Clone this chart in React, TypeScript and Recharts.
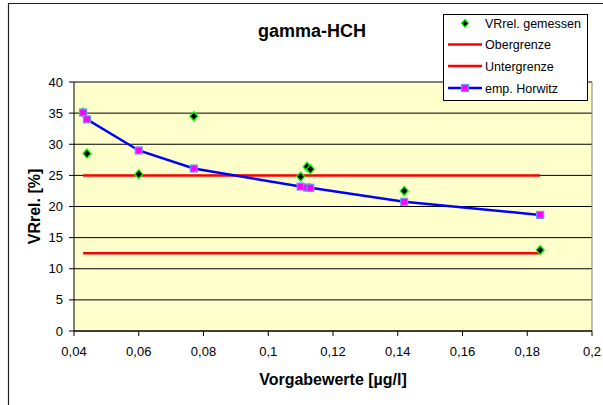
import React from 'react';
import { ComposedChart, Scatter, XAxis, YAxis, CartesianGrid, ReferenceLine } from 'recharts';

const vorgabewerte = [0.0428, 0.044, 0.06, 0.077, 0.11, 0.112, 0.113, 0.142, 0.184];
const vrMeasured = [35.1, 28.5, 25.2, 34.5, 24.8, 26.4, 26.0, 22.5, 13.0];
const horwitz = [35.1, 34.0, 29.0, 26.1, 23.2, 23.05, 23.0, 20.75, 18.65];
const boundX = [0.0428, 0.184];
const obergrenze = [25, 25];
const untergrenze = [12.5, 12.5];
const xTicks = [0.04, 0.06, 0.08, 0.1, 0.12, 0.14, 0.16, 0.18, 0.2];
const yTicks = [0, 5, 10, 15, 20, 25, 30, 35, 40];

const measuredData = vorgabewerte.map((x, i) => ({ x, y: vrMeasured[i] }));
const horwitzData = vorgabewerte.map((x, i) => ({ x, y: horwitz[i] }));
const oberData = boundX.map((x, i) => ({ x, y: obergrenze[i] }));
const unterData = boundX.map((x, i) => ({ x, y: untergrenze[i] }));

const FONT = '"Liberation Sans", Arial, sans-serif';

const Diamond = (props: any) => {
  const { cx, cy } = props;
  if (cx == null || cy == null) return <g />;
  return (
    <polygon
      points={`${cx},${cy - 4.5} ${cx + 4},${cy} ${cx},${cy + 4.5} ${cx - 4},${cy}`}
      fill="#000000"
      stroke="#00FF00"
      strokeWidth={1.3}
    />
  );
};

const Square = (props: any) => {
  const { cx, cy } = props;
  if (cx == null || cy == null) return <g />;
  return <rect x={cx - 3.5} y={cy - 3.5} width={7} height={7} fill="#FF00FF" stroke="#6699FF" strokeWidth={1.2} />;
};

const NoShape = () => <g />;

const fmt = (v: number) => String(v).replace('.', ',');

const LegendBox = () => (
  <g transform="translate(443,14)">
    <rect x={0.5} y={0.5} width={144} height={86} fill="#FFFFFF" stroke="#000000" strokeWidth={1} />
    <g fontFamily={FONT} fontSize={12.5} fill="#000">
      <polygon points="22,5.3 25.5,9.3 22,13.3 18.5,9.3" fill="#000" stroke="#00FF00" strokeWidth={1.2} />
      <text x={42} y={13.8}>VRrel. gemessen</text>
      <line x1={5} x2={39} y1={30.5} y2={30.5} stroke="#FF0000" strokeWidth={2.5} />
      <text x={42} y={35}>Obergrenze</text>
      <line x1={5} x2={39} y1={52} y2={52} stroke="#FF0000" strokeWidth={2.5} />
      <text x={42} y={56.5}>Untergrenze</text>
      <line x1={5} x2={39} y1={74} y2={74} stroke="#0000FF" strokeWidth={2.5} />
      <rect x={18.5} y={70.5} width={7} height={7} fill="#FF00FF" stroke="#6699FF" strokeWidth={1.2} />
      <text x={42} y={78.5}>emp. Horwitz</text>
    </g>
  </g>
);

export default function App() {
  return (
    <div style={{ position: 'absolute', left: 0, top: 0, width: 603, height: 405, background: '#fff' }}>
      <ComposedChart width={603} height={405} margin={{ top: 82, right: 11, left: 14, bottom: 20 }}>
        <CartesianGrid horizontal vertical={false} stroke="#000000" fill="#FFFFCC" strokeWidth={1} />
        <XAxis
          type="number"
          dataKey="x"
          domain={[0.04, 0.2]}
          ticks={xTicks}
          interval={0}
          allowDataOverflow
          tickFormatter={fmt}
          stroke="#000"
          tickSize={5}
          tickMargin={11}
          height={54}
          tick={{ fill: '#000', fontSize: 13, fontFamily: FONT }}
          label={{
            value: 'Vorgabewerte [µg/l]',
            position: 'insideBottom',
            offset: 0,
            style: { fontFamily: FONT, fontSize: 16, fontWeight: 'bold', fill: '#000' },
          }}
        />
        <YAxis
          type="number"
          dataKey="y"
          domain={[0, 40]}
          ticks={yTicks}
          interval={0}
          stroke="#000"
          tickSize={5}
          tickMargin={6}
          width={60}
          tick={{ fill: '#000', fontSize: 13, fontFamily: FONT }}
          label={{
            value: 'VRrel. [%]',
            angle: -90,
            position: 'insideLeft',
            offset: 20,
            style: { fontFamily: FONT, fontSize: 16, fontWeight: 'bold', fill: '#000', textAnchor: 'middle' },
          }}
        />
        <ReferenceLine y={40} stroke="#808080" strokeWidth={1} />
        <ReferenceLine x={0.2} stroke="#808080" strokeWidth={1} />
        <Scatter
          name="Obergrenze"
          data={oberData}
          line={{ stroke: '#FF0000', strokeWidth: 2.5 }}
          shape={NoShape}
          isAnimationActive={false}
        />
        <Scatter
          name="Untergrenze"
          data={unterData}
          line={{ stroke: '#FF0000', strokeWidth: 2.5 }}
          shape={NoShape}
          isAnimationActive={false}
        />
        <Scatter name="VRrel. gemessen" data={measuredData} shape={Diamond} isAnimationActive={false} />
        <Scatter
          name="emp. Horwitz"
          data={horwitzData}
          line={{ stroke: '#0000FF', strokeWidth: 2.5 }}
          shape={Square}
          isAnimationActive={false}
        />
      </ComposedChart>
      <svg
        width={603}
        height={405}
        style={{ position: 'absolute', left: 0, top: 0, pointerEvents: 'none' }}
      >
        <path d="M 8.5 405 L 8.5 3.5 L 603 3.5" fill="none" stroke="#222" strokeWidth={1.2} />
        <text x={312} y={37} textAnchor="middle" fontFamily={FONT} fontSize={18} fontWeight="bold" fill="#000">
          gamma-HCH
        </text>
        <LegendBox />
      </svg>
    </div>
  );
}
